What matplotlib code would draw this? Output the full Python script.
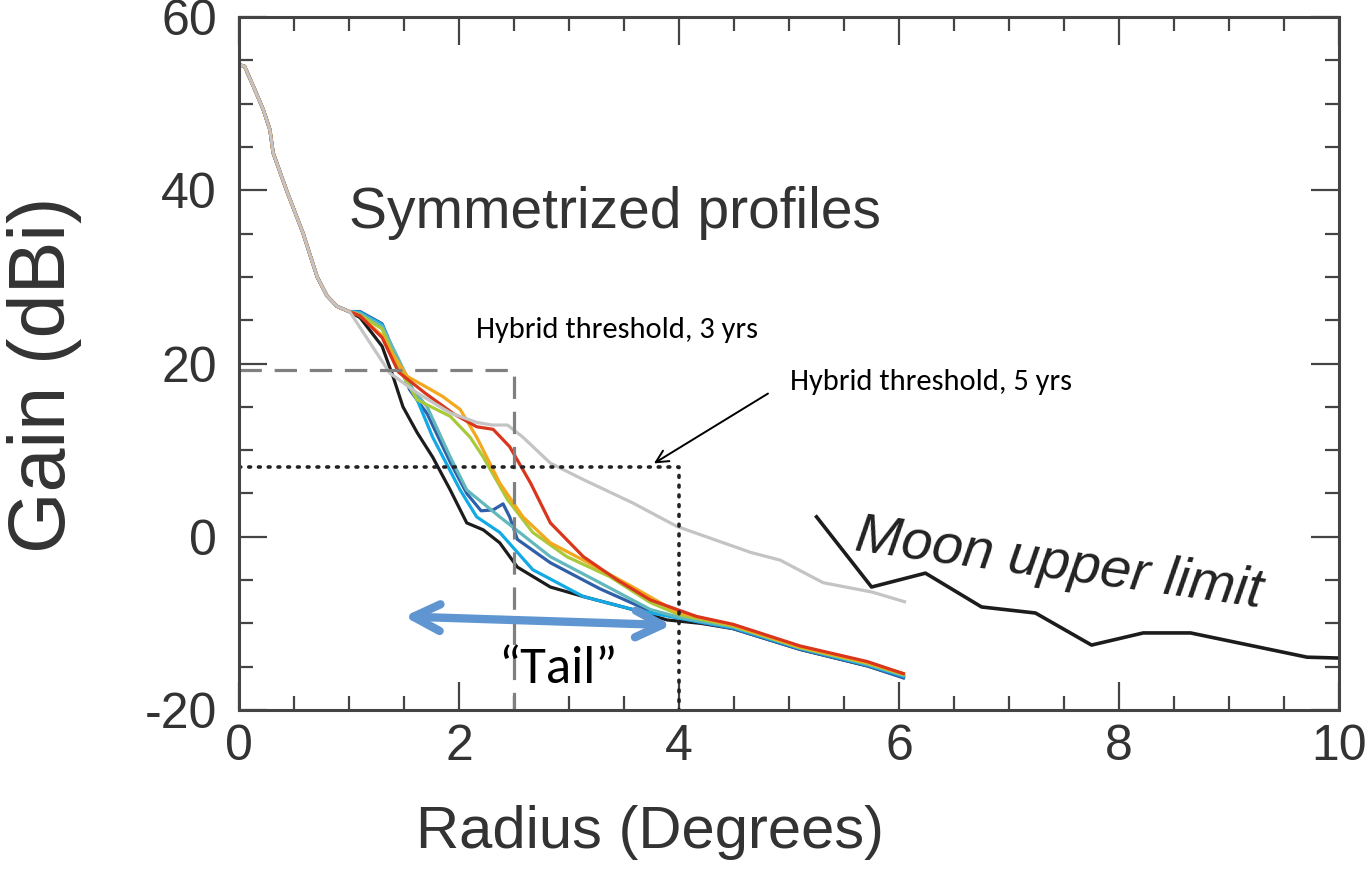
import matplotlib
matplotlib.use("Agg")
import matplotlib.pyplot as plt

plt.rcParams['font.family'] = ['Liberation Sans', 'DejaVu Sans']
plt.rcParams['axes.unicode_minus'] = False

# shared main-lobe part of all symmetrized profiles (radius deg, gain dBi)
head_x = [0.0, 0.05, 0.13, 0.22, 0.28, 0.31, 0.44, 0.58, 0.71, 0.80, 0.89, 1.0]
head_y = [54.5, 54.3, 52.0, 49.3, 47.0, 44.3, 39.7, 35.1, 30.0, 27.8, 26.6, 26.0]

# individual profiles past the first shoulder
black_x = [1.1, 1.3, 1.40, 1.49, 1.62, 1.76, 1.92, 2.07, 2.22, 2.37, 2.53, 2.83, 3.13, 3.58, 3.89, 4.2, 4.49, 5.1, 5.71, 6.04]
black_y = [25.3, 22.0, 18.5, 15.0, 12.0, 9.2, 5.4, 1.6, 0.8, -0.7, -3.5, -5.8, -6.9, -8.4, -9.6, -10.0, -10.6, -13.0, -14.9, -16.2]

blue_x = [1.1, 1.3, 1.42, 1.55, 1.71, 1.92, 2.07, 2.2, 2.31, 2.40, 2.46, 2.53, 2.83, 3.28, 3.74, 4.2, 4.49, 5.1, 5.71, 6.04]
blue_y = [26.0, 24.6, 21.0, 17.0, 14.2, 8.6, 5.0, 3.0, 3.1, 3.8, 2.3, -0.3, -3.0, -6.0, -8.6, -9.9, -10.6, -13.0, -14.9, -16.3]

cyan_x = [1.1, 1.3, 1.42, 1.50, 1.62, 1.76, 2.01, 2.16, 2.37, 2.67, 3.13, 3.58, 4.0, 4.49, 5.1, 5.71, 6.04]
cyan_y = [25.9, 24.5, 21.0, 18.5, 15.8, 11.5, 5.4, 2.3, 0.5, -3.8, -6.9, -8.4, -9.4, -10.5, -12.9, -14.8, -16.1]

teal_x = [1.1, 1.3, 1.45, 1.58, 1.71, 1.92, 2.07, 2.37, 2.83, 3.28, 3.74, 4.0, 4.49, 5.1, 5.71, 6.04]
teal_y = [25.8, 24.3, 20.5, 17.0, 15.0, 9.2, 5.4, 2.3, -2.3, -5.3, -8.4, -9.3, -10.4, -12.8, -14.7, -16.0]

green_x = [1.1, 1.3, 1.45, 1.62, 1.92, 2.10, 2.22, 2.44, 2.67, 2.98, 3.37, 3.74, 4.0, 4.49, 5.1, 5.71, 6.04]
green_y = [25.6, 24.0, 19.5, 15.8, 13.9, 11.5, 9.2, 4.3, 0.5, -2.3, -4.6, -7.6, -9.0, -10.3, -12.8, -14.6, -15.9]

orange_x = [1.1, 1.31, 1.37, 1.53, 1.70, 1.85, 2.01, 2.16, 2.37, 2.58, 2.83, 3.13, 3.58, 3.98, 4.49, 5.1, 5.71, 6.04]
orange_y = [25.5, 23.1, 21.6, 18.5, 17.3, 16.2, 14.7, 11.5, 6.2, 2.3, -0.7, -2.7, -5.8, -8.7, -10.2, -12.7, -14.5, -15.8]

red_x = [1.1, 1.3, 1.45, 1.7, 1.95, 2.16, 2.31, 2.46, 2.65, 2.83, 3.13, 3.44, 3.74, 4.16, 4.49, 5.1, 5.71, 6.04]
red_y = [25.5, 23.0, 19.0, 16.5, 14.2, 12.7, 12.4, 10.4, 6.2, 1.6, -2.3, -5.0, -7.3, -9.2, -10.1, -12.6, -14.4, -15.8]

gray_x = [1.01, 1.19, 1.37, 1.62, 1.92, 2.16, 2.30, 2.44, 2.58, 2.83, 3.13, 3.58, 3.98, 4.65, 4.92, 5.31, 5.76, 6.05]
gray_y = [25.9, 22.4, 18.9, 16.6, 14.3, 13.2, 12.9, 12.9, 11.5, 8.5, 6.6, 3.9, 1.2, -1.8, -2.7, -5.3, -6.4, -7.5]

# Moon shadow upper limit
moon_x = [5.25, 5.75, 6.24, 6.75, 7.24, 7.75, 8.22, 8.65, 9.71, 10.0]
moon_y = [2.3, -5.8, -4.2, -8.1, -8.8, -12.5, -11.1, -11.1, -13.9, -14.0]

# hybrid thresholds: (radius, gain)
thr3 = (2.5, 19.3)
thr5 = (4.0, 8.1)

fig = plt.figure(figsize=(13.7, 8.85), dpi=100)
ax = fig.add_axes([0.1745, 0.1977, 0.8029, 0.7831])

profiles = [
    (black_x, black_y, '#1c1c1c'),
    (blue_x, blue_y, '#2f5fa8'),
    (cyan_x, cyan_y, '#12aae6'),
    (teal_x, teal_y, '#62b8bc'),
    (green_x, green_y, '#a9c93a'),
    (orange_x, orange_y, '#f3a81e'),
    (red_x, red_y, '#d9361c'),
    (gray_x, gray_y, '#c4c4c4'),
]
for xs, ys, c in profiles:
    ax.plot(head_x + xs, head_y + ys, color=c, lw=2.3, solid_joinstyle='round')

ax.plot(moon_x, moon_y, color='#1c1c1c', lw=2.6)

# threshold boxes
ax.plot([0, thr3[0], thr3[0]], [thr3[1], thr3[1], -20], color='#808080',
        lw=2.3, linestyle=(0, (7, 4)))
ax.plot([0, thr5[0], thr5[0]], [thr5[1], thr5[1], -20], color='#222222',
        lw=2.6, linestyle=(0, (0.5, 2.2)), dash_capstyle='round')

ax.set_xlim(0, 10)
ax.set_ylim(-20, 60)
ax.set_xticks([0, 2, 4, 6, 8, 10])
ax.set_yticks([-20, 0, 20, 40, 60])
ax.set_xticks([i * 0.5 for i in range(21)], minor=True)
ax.set_yticks(range(-20, 61, 5), minor=True)
ax.tick_params(which='both', direction='in', top=True, right=True,
               colors='#444444', labelcolor='#333333', labelsize=36, width=1.6)
ax.tick_params(which='major', length=20)
ax.tick_params(axis='x', which='major', pad=10)
ax.tick_params(axis='y', which='major', pad=16)
ax.tick_params(which='minor', length=10)
for s in ax.spines.values():
    s.set_linewidth(2.2)
    s.set_color('#444444')

fig.text(650 / 1370, 1 - 832 / 885, 'Radius (Degrees)', fontsize=43,
         color='#333333', ha='center', va='center')
fig.text(45 / 1370, 1 - 375 / 885, 'Gain (dBi)', fontsize=57,
         color='#333333', ha='center', va='center', rotation=90)

ax.text(1.0, 37.4, 'Symmetrized profiles', fontsize=41, color='#333333', va='center')
ax.text(7.45, -3.2, 'Moon upper limit', fontsize=40, color='#222222', style='italic',
        rotation=-8, ha='center', va='center', rotation_mode='anchor')

callout = ['Carlito', 'Lato', 'DejaVu Sans']
ax.text(3.44, 23.9, 'Hybrid threshold, 3 yrs', fontsize=22, family=callout,
        ha='center', va='center')
ax.text(6.29, 17.9, 'Hybrid threshold, 5 yrs', fontsize=22, family=callout,
        ha='center', va='center')
ax.annotate('', xy=(3.75, 8.3), xytext=(4.83, 16.7),
            arrowprops=dict(arrowstyle='->', color='black', lw=1.4,
                            mutation_scale=22))

# tail marker
ax.annotate('', xy=(1.5, -9.2), xytext=(3.93, -10.2),
            arrowprops=dict(arrowstyle='<->', color='#5f95d0', lw=6,
                            mutation_scale=48, shrinkA=0, shrinkB=0))
ax.text(2.9, -15.3, '\u201cTail\u201d', fontsize=38, family=callout,
        ha='center', va='center')

fig.savefig('out.png', dpi=100)
